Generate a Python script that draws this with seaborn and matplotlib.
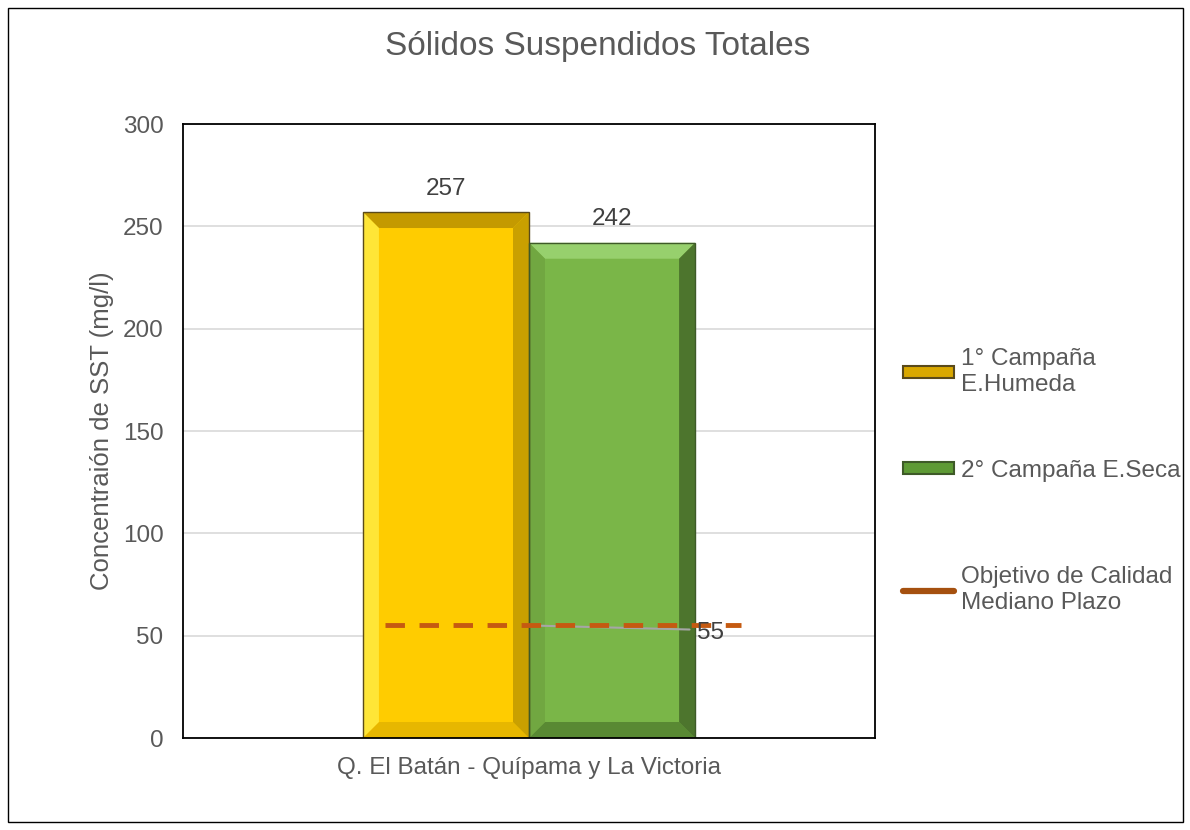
import matplotlib
matplotlib.use("Agg")
import matplotlib.pyplot as plt
import seaborn as sns
import pandas as pd
from matplotlib.patches import Rectangle, Polygon, Patch
from matplotlib.lines import Line2D

categories = ["Q. El Batán - Quípama y La Victoria"]
series = ["1° Campaña\nE.Humeda", "2° Campaña E.Seca"]
values = [257, 242]
objective_label = "Objetivo de Calidad\nMediano Plazo"
objective_value = 55

colors = ["#FFCC00", "#7AB648"]
bevel_colors = [
    {"top": "#B08A00", "bottom": "#E0B000", "left": "#FFF04A", "right": "#B89200"},
    {"top": "#A2D97A", "bottom": "#4E7A2C", "left": "#6FA23F", "right": "#3E6024"},
]
edge_colors = ["#5A4A1A", "#3E5A28"]

df = pd.DataFrame({"cat": categories * len(series), "serie": series, "val": values})

sns.set_theme(style="white")
plt.rcParams["font.family"] = ["Liberation Sans", "DejaVu Sans"]

FS = 17.5
fig = plt.figure(figsize=(11.9, 8.3), dpi=100)
ax_w_px, ax_h_px = 875 - 183, 738 - 124
ax = fig.add_axes([183/1190, 1-738/830, ax_w_px/1190, ax_h_px/830])

sns.barplot(data=df, x="cat", y="val", hue="serie", palette=colors, width=0.48,
            dodge=True, ax=ax, legend=False, saturation=1)

ax.set_xlim(-0.5, 0.5)
ax.set_ylim(0, 300)

bars = list(ax.patches)
bev_px = 16
dx = bev_px / ax_w_px * 1.0
dy = bev_px / ax_h_px * 300.0
for p, bc, ec in zip(bars, bevel_colors, edge_colors):
    p.set_linewidth(0)
    x0 = p.get_x(); x1 = x0 + p.get_width(); h = p.get_height()
    polys = {
        "top": [(x0, h), (x1, h), (x1 - dx, h - dy), (x0 + dx, h - dy)],
        "bottom": [(x0, 0), (x1, 0), (x1 - dx, dy), (x0 + dx, dy)],
        "left": [(x0, 0), (x0, h), (x0 + dx, h - dy), (x0 + dx, dy)],
        "right": [(x1, 0), (x1, h), (x1 - dx, h - dy), (x1 - dx, dy)],
    }
    for k, pts in polys.items():
        ax.add_patch(Polygon(pts, closed=True, facecolor=bc[k], edgecolor="none",
                             alpha=0.75, zorder=p.get_zorder() + 0.1))
    ax.add_patch(Rectangle((x0, 0), x1 - x0, h, fill=False, edgecolor=ec, lw=1.0,
                           zorder=p.get_zorder() + 0.2))

ax.set_yticks([0, 50, 100, 150, 200, 250, 300])
ax.yaxis.grid(True, color="#D9D9D9", linewidth=1.2)
ax.set_axisbelow(True)
for s in ax.spines.values():
    s.set_visible(True)
    s.set_color("black")
    s.set_linewidth(1.3)

# data labels
for p, v in zip(bars, values):
    ax.text(p.get_x() + p.get_width()/2, v + 6, f"{v}", ha="center", va="bottom",
            fontsize=FS, color="#404040")

# objective line
ax.plot([0.0, 0.232], [objective_value, objective_value - 2], color="#A6A6A6", lw=1.5, zorder=4)
ax.hlines(objective_value, -0.208, 0.306, colors="#C55A11", linestyles=(0, (4, 3)),
          lw=3.5, zorder=5)
ax.text(0.243, objective_value - 3.5, f"{objective_value}", ha="left", va="center",
        fontsize=FS, color="#404040", zorder=6)

ax.tick_params(axis="both", length=0, labelsize=FS, labelcolor="#595959")
ax.tick_params(axis="y", pad=14)
ax.tick_params(axis="x", pad=14)
ax.set_xlabel("")
ax.set_ylabel("Concentraión de SST (mg/l)", fontsize=18.5, color="#595959", labelpad=6)

fig.text(598/1190, 1-47/830, "Sólidos Suspendidos Totales", ha="center", va="center",
         fontsize=24, color="#595959")

handles = [
    Patch(facecolor="#D9A800", edgecolor="#5A4A1A", linewidth=1.5),
    Patch(facecolor="#5E9A35", edgecolor="#3E5A28", linewidth=1.5),
    Line2D([0], [0], color="#A5500F", lw=4.5, solid_capstyle="round"),
]
labels = series + [objective_label]
centers_y = [372, 471, 590]
for hnd, lab, cy in zip(handles, labels, centers_y):
    fig.legend([hnd], [lab], loc="center left",
               bbox_to_anchor=(881/1190, 1-cy/830), frameon=False, fontsize=FS,
               labelcolor="#595959", handlelength=2.1, handleheight=0.4,
               handletextpad=0.3)

fig.patches.append(Rectangle((8/1190, 8/830), (1183-8)/1190, (822-8)/830,
                             transform=fig.transFigure, fill=False, edgecolor="black", lw=1))

fig.savefig("out.png", dpi=100)
